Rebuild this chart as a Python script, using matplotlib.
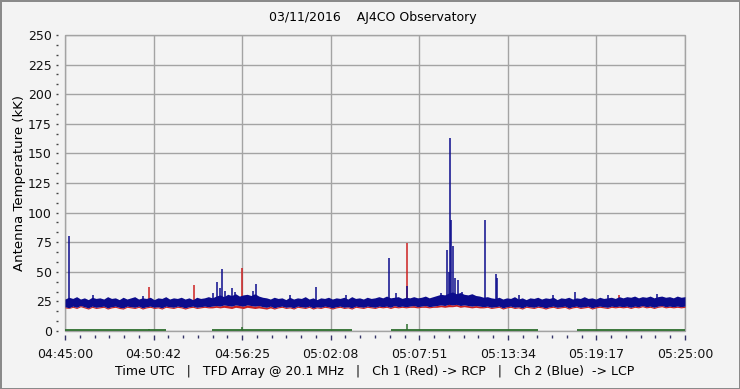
import numpy as np
import matplotlib
matplotlib.use("Agg")
import matplotlib.pyplot as plt
from matplotlib.ticker import AutoMinorLocator
from matplotlib.patches import Rectangle

# ---------------- data (minutes after 04:45:00 UTC, kK) ----------------
title = "03/11/2016    AJ4CO Observatory"
ylabel = "Antenna Temperature (kK)"
xlabel = "Time UTC   |   TFD Array @ 20.1 MHz   |   Ch 1 (Red) -> RCP   |   Ch 2 (Blue)  -> LCP"
xtick_labels = ["04:45:00", "04:50:42", "04:56:25", "05:02:08",
                "05:07:51", "05:13:34", "05:19:17", "05:25:00"]
span_minutes = 40.0

band_t = np.arange(0, 40.25, 0.25)

blue_hi = [27.0, 28.5, 27.5, 29.0, 27.0, 28.0, 26.5, 28.5, 27.5, 28.0,
           27.0, 29.0, 27.5, 28.0, 26.5, 28.5, 27.0, 28.0, 29.0, 27.0,
           28.0, 27.5, 28.5, 26.5, 28.0, 27.5, 29.0, 27.0, 28.0, 27.5,
           28.5, 27.0, 28.0, 26.5, 28.5, 27.5, 28.0, 29.0, 28.0, 29.5,
           30.5, 29.0, 31.0, 30.0, 31.5, 29.5, 30.5, 31.0, 30.0, 31.5,
           29.5, 28.5, 28.0, 27.0, 28.5, 27.5, 28.0, 26.5, 28.5, 27.0,
           28.0, 27.5, 29.0, 27.0, 28.0, 26.5, 28.0, 27.5, 28.5, 27.0,
           28.0, 27.5, 28.5, 27.0, 29.0, 27.5, 28.0, 27.0, 28.5, 27.5,
           28.0, 29.0, 28.0, 29.5, 28.0, 28.5, 29.0, 27.5, 28.5, 28.0,
           29.0, 28.0, 28.5, 29.5, 28.0, 29.0, 30.0, 31.0, 30.5, 32.0,
           33.0, 31.5, 32.5, 31.0, 30.5, 31.5, 30.0, 29.5, 28.5, 29.0,
           28.0, 27.5, 28.5, 27.0, 28.0, 27.5, 29.0, 27.0, 28.0, 26.5,
           28.0, 27.5, 28.5, 27.0, 28.0, 27.5, 28.5, 26.5, 28.0, 27.5,
           28.5, 27.0, 28.0, 27.5, 29.0, 27.5, 28.0, 27.0, 28.5, 27.5,
           28.0, 28.5, 27.5, 29.0, 28.0, 29.0, 28.5, 29.5, 28.0, 29.0,
           28.5, 29.5, 28.0, 29.0, 29.5, 28.5, 29.0, 28.0, 29.5, 28.5,
           29.0]

blue_lo = [20.5, 19.5, 21.0, 20.0, 21.5, 20.5, 19.5, 21.0, 20.0, 20.5,
           21.0, 19.5, 20.5, 21.0, 20.0, 19.5, 21.0, 20.5, 20.0, 21.0,
           19.5, 20.5, 21.0, 20.0, 20.5, 19.5, 21.0, 20.5, 20.0, 21.0,
           20.5, 19.5, 20.5, 21.0, 20.0, 20.5, 21.0, 20.5, 21.0, 21.5,
           21.0, 22.0, 21.5, 21.0, 22.0, 21.5, 21.0, 22.0, 21.5, 21.0,
           21.5, 20.5, 20.0, 21.0, 19.5, 20.5, 21.0, 20.0, 20.5, 19.5,
           21.0, 20.5, 20.0, 21.0, 19.5, 20.5, 20.0, 21.0, 20.5, 19.5,
           20.5, 21.0, 20.0, 20.5, 19.5, 21.0, 20.5, 20.0, 21.0, 20.5,
           20.0, 21.0, 20.5, 21.0, 20.0, 21.5, 20.5, 21.0, 20.5, 21.0,
           21.5, 20.5, 21.0, 21.5, 20.5, 21.0, 21.5, 22.0, 21.5, 22.5,
           22.0, 22.5, 21.5, 22.0, 21.5, 21.0, 21.5, 21.0, 20.5, 21.0,
           20.0, 20.5, 21.0, 19.5, 20.5, 21.0, 20.0, 20.5, 19.5, 21.0,
           20.5, 20.0, 21.0, 20.5, 19.5, 20.5, 21.0, 20.0, 20.5, 21.0,
           19.5, 20.5, 21.0, 20.0, 20.5, 21.0, 19.5, 20.5, 21.0, 20.5,
           20.0, 21.0, 20.5, 21.0, 20.5, 21.0, 20.0, 21.0, 20.5, 21.5,
           20.5, 21.0, 20.0, 21.0, 21.5, 20.5, 21.0, 20.5, 21.0, 20.5,
           21.0]

red_lo = [19.5, 19.0, 20.0, 19.0, 20.5, 19.5, 18.5, 20.0, 19.0, 19.5,
          20.0, 18.5, 19.5, 20.0, 19.0, 18.5, 20.0, 19.5, 19.0, 20.0,
          18.5, 19.5, 20.0, 19.0, 19.5, 18.5, 20.0, 19.5, 19.0, 20.0,
          19.5, 18.5, 19.5, 20.0, 19.0, 19.5, 20.0, 19.5, 19.5, 20.0,
          19.5, 20.0, 19.5, 19.0, 20.0, 19.5, 19.0, 20.0, 19.5, 19.0,
          19.5, 19.0, 18.5, 19.5, 18.5, 19.5, 20.0, 19.0, 19.5, 18.5,
          20.0, 19.5, 19.0, 20.0, 18.5, 19.5, 19.0, 20.0, 19.5, 18.5,
          19.5, 20.0, 19.0, 19.5, 18.5, 20.0, 19.5, 19.0, 20.0, 19.5,
          19.0, 20.0, 19.5, 20.0, 19.0, 20.0, 19.5, 20.0, 19.5, 20.0,
          20.0, 19.5, 20.0, 20.0, 19.5, 20.0, 20.0, 20.5, 20.0, 20.5,
          20.5, 21.0, 20.0, 20.5, 20.0, 19.5, 20.0, 19.5, 19.5, 20.0,
          19.0, 19.5, 20.0, 18.5, 19.5, 20.0, 19.0, 19.5, 18.5, 20.0,
          19.5, 19.0, 20.0, 19.5, 18.5, 19.5, 20.0, 19.0, 19.5, 20.0,
          18.5, 19.5, 20.0, 19.0, 19.5, 20.0, 18.5, 19.5, 20.0, 19.5,
          19.0, 20.0, 19.5, 20.0, 19.5, 20.0, 19.0, 20.0, 19.5, 20.5,
          19.5, 20.0, 19.0, 20.0, 20.5, 19.5, 20.0, 19.5, 20.0, 19.5,
          20.0]

green_t = np.arange(0, 40.5, 0.5)
nan = np.nan
green = [0.5] * 14 + [nan, nan, nan, 0.5, nan, 0.5] + [0.5] * 18 + \
        [nan, nan, nan, nan] + [0.5] * 20 + [nan, nan, nan, nan] + [0.5] * 15

blue_spike_t = [0.26, 1.8, 5.0, 9.55, 9.81, 10.0, 10.13, 10.3, 10.77, 10.97,
                12.1, 12.32, 14.5, 16.19, 18.1, 20.9, 21.35, 22.06, 24.26,
                24.65, 24.77, 24.84, 24.9, 25.03, 25.16, 25.35, 25.6, 27.1,
                27.8, 27.87, 29.3, 31.48, 32.9, 35.0, 38.2]
blue_spike_v = [80, 30, 29.5, 32, 41, 36, 52, 34, 36, 33,
                34, 40, 30, 37, 30.5, 62, 32, 38, 32,
                68, 50, 163, 94, 72, 45, 43, 33, 94,
                48, 45, 30, 30, 33, 30.5, 31]

red_spike_t = [5.42, 8.32, 11.42, 22.06, 24.84, 35.74]
red_spike_v = [37, 39, 53, 74, 30, 30]

green_spike_t = [5.42, 11.42, 22.06]
green_spike_v = [2.0, 3.5, 5.5]

# ---------------- styling ----------------
BG = "#f3f3f3"
BLUE = "#0c0c8c"
RED = "#cc2020"
GREEN = "#2d6e2d"
GRID = "#a3a3a3"

plt.rcParams["font.family"] = ["DejaVu Sans"]

fig = plt.figure(figsize=(7.4, 3.89), dpi=100)
fig.patch.set_facecolor(BG)
fig.patch.set_edgecolor("#8a8a8a")
fig.patch.set_linewidth(2)

ax = fig.add_axes([65 / 740, 58 / 389, 620 / 740, 296 / 389])
ax.set_facecolor(BG)

ax.set_xlim(0, span_minutes)
ax.set_ylim(0, 250)

ax.set_axisbelow(True)
ax.grid(True, which="major", color=GRID, lw=1.0)

# red channel
ax.fill_between(band_t, red_lo, blue_lo, color=RED, lw=0, zorder=2)
ax.vlines(red_spike_t, 24, red_spike_v, color=RED, lw=1.1, zorder=2)
# blue channel
ax.fill_between(band_t, blue_lo, blue_hi, color=BLUE, lw=0, zorder=3)
ax.vlines(blue_spike_t, 24, blue_spike_v, color=BLUE, lw=1.1, zorder=3)
# green
ax.plot(green_t, green, color=GREEN, lw=1.3, zorder=4, solid_capstyle="butt")
ax.vlines(green_spike_t, 0.5, green_spike_v, color=GREEN, lw=1.1, zorder=4)

# ticks
major_x = np.linspace(0, span_minutes, len(xtick_labels))
ax.set_xticks(major_x)
ax.set_xticklabels(xtick_labels)
ax.xaxis.set_minor_locator(AutoMinorLocator(6))
ax.set_yticks(np.arange(0, 251, 25))
ax.yaxis.set_minor_locator(AutoMinorLocator(3))

for s in ax.spines.values():
    s.set_visible(False)
ax.spines["left"].set_position(("outward", 5))
ax.spines["bottom"].set_position(("outward", 3))

ax.tick_params(axis="y", which="major", length=1.5, width=1, color="#444444",
               pad=3, labelsize=9, labelcolor="#111111")
ax.tick_params(axis="y", which="minor", length=1.5, width=1, color="#444444")
ax.tick_params(axis="x", which="major", length=3.5, width=1, color="#333366",
               pad=6, labelsize=9, labelcolor="#111111")
ax.tick_params(axis="x", which="minor", length=1.8, width=1, color="#333366")

# frame
ax.add_patch(Rectangle((0, 0), 1, 1, transform=ax.transAxes, fill=False,
                       edgecolor=GRID, lw=1.0, zorder=1, clip_on=False))

fig.text(373 / 740, 1 - 18 / 389, title, ha="center", va="center", fontsize=9)
fig.text(20 / 740, 1 - 183 / 389, ylabel, ha="center", va="center",
         rotation=90, fontsize=9.5)
fig.text(375 / 740, 1 - 371 / 389, xlabel, ha="center", va="center", fontsize=9)

fig.savefig("out.png", dpi=100, facecolor=fig.get_facecolor(),
            edgecolor=fig.get_edgecolor())
